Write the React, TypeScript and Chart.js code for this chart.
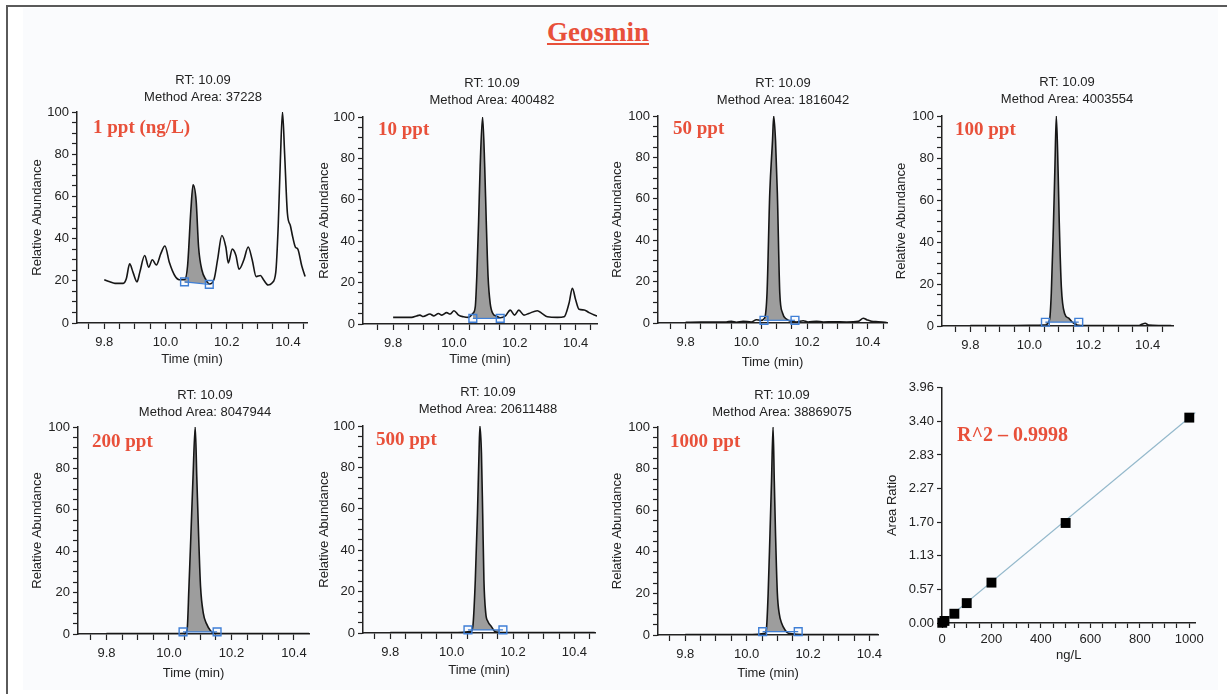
import React, { useEffect, useRef } from 'react';
import { Chart, registerables } from 'chart.js';

Chart.register(...registerables);

const SANS = "'Liberation Sans', Arial, Helvetica, sans-serif";
const SERIF = "'Liberation Serif', 'Times New Roman', serif";
const RED = '#e8503a';
const INK = '#222222';

// ---------- axis ticks ----------
const TIME_TICKS = [9.75, 9.8, 9.85, 9.9, 9.95, 10.0, 10.05, 10.1, 10.15, 10.2, 10.25, 10.3, 10.35, 10.4, 10.45];
const TIME_LABELS = [9.8, 10.0, 10.2, 10.4];
const ABUND_TICKS = [0, 5, 10, 15, 20, 25, 30, 35, 40, 45, 50, 55, 60, 65, 70, 75, 80, 85, 90, 95, 100];
const ABUND_LABELS = [0, 20, 40, 60, 80, 100];
const CAL_X_TICKS = [0, 50, 100, 150, 200, 250, 300, 350, 400, 450, 500, 550, 600, 650, 700, 750, 800, 850, 900, 950, 1000];
const CAL_X_LABELS = [0, 200, 400, 600, 800, 1000];
const CAL_Y_TICKS = [0, 0.566, 1.131, 1.697, 2.263, 2.829, 3.394, 3.96];
const CAL_Y_LABELS = ['0.00', '0.57', '1.13', '1.70', '2.27', '2.83', '3.40', '3.96'];

// ---------- chromatograms (time in min, relative abundance %) ----------
const T1 = [9.800, 9.818, 9.835, 9.862, 9.872, 9.883, 9.894, 9.907, 9.916, 9.932, 9.945, 9.957, 9.970, 9.985, 9.998, 10.013, 10.030, 10.045, 10.062, 10.072, 10.083, 10.090, 10.100, 10.108, 10.119, 10.132, 10.143, 10.159, 10.170, 10.184, 10.197, 10.205, 10.218, 10.230, 10.240, 10.256, 10.270, 10.283, 10.296, 10.310, 10.320, 10.335, 10.348, 10.360, 10.368, 10.375, 10.382, 10.389, 10.398, 10.408, 10.415, 10.424, 10.432, 10.445, 10.456];
const A1 = [20.5, 19.5, 18.8, 18.8, 21, 28, 24, 19.5, 24, 32, 26.5, 30, 27.5, 33, 36.5, 28.5, 22.5, 20.5, 20.5, 27, 54, 65.5, 58, 36, 25, 20.5, 18.5, 21, 30, 41.5, 36, 28.5, 35, 32, 25.5, 30, 36, 30, 22, 22.5, 20.5, 18, 19, 24, 46, 77, 100, 80, 52, 46, 41, 36, 35, 27, 22];

const T2 = [9.800, 9.861, 9.877, 9.888, 9.899, 9.921, 9.934, 9.949, 9.960, 9.976, 9.987, 10.000, 10.015, 10.031, 10.048, 10.062, 10.070, 10.075, 10.081, 10.086, 10.094, 10.101, 10.106, 10.112, 10.119, 10.128, 10.140, 10.152, 10.169, 10.185, 10.199, 10.213, 10.230, 10.246, 10.274, 10.290, 10.307, 10.340, 10.362, 10.378, 10.389, 10.400, 10.411, 10.428, 10.444, 10.461, 10.470];
const A2 = [3.2, 3.2, 3.9, 4.3, 3.6, 4.8, 3.9, 5.1, 4.3, 5.5, 4.8, 6.4, 4.3, 3.5, 3.2, 5.1, 8.4, 23, 50, 76, 100, 76, 50, 23, 10, 5, 3.8, 3.0, 3.9, 6.7, 4.3, 6.7, 4.3, 5.1, 6.4, 5.0, 3.5, 3.2, 3.5, 10, 17.2, 11.6, 7.1, 6.8, 5.5, 4.3, 3.9];

const T3 = [9.800, 9.850, 9.900, 9.934, 9.951, 9.967, 9.989, 10.016, 10.033, 10.046, 10.060, 10.068, 10.077, 10.086, 10.090, 10.096, 10.102, 10.110, 10.119, 10.132, 10.148, 10.165, 10.187, 10.203, 10.231, 10.253, 10.286, 10.330, 10.368, 10.385, 10.396, 10.412, 10.434, 10.456, 10.463];
const A3 = [0.3, 0.4, 0.4, 0.5, 0.8, 0.3, 0.8, 0.5, 1.6, 1.2, 2.4, 14.5, 62.7, 88, 100, 88, 62.7, 14.5, 4.8, 1.9, 0.8, 0.5, 1.1, 0.5, 0.8, 0.5, 0.6, 0.5, 0.8, 2.3, 1.6, 0.8, 0.6, 0.3, 0.1];

const T4 = [9.800, 9.900, 10.000, 10.054, 10.068, 10.074, 10.081, 10.086, 10.091, 10.097, 10.101, 10.108, 10.119, 10.133, 10.144, 10.161, 10.189, 10.279, 10.369, 10.380, 10.392, 10.403, 10.437, 10.480];
const A4 = [0.2, 0.2, 0.3, 0.5, 2.9, 15.6, 47, 74, 100, 74, 49, 18.7, 6, 3.7, 2, 0.5, 0.2, 0.2, 0.2, 0.8, 1.3, 0.4, 0.2, 0.2];

const T5 = [9.800, 9.900, 10.000, 10.051, 10.058, 10.064, 10.070, 10.077, 10.084, 10.089, 10.095, 10.101, 10.110, 10.120, 10.133, 10.147, 10.200, 10.300, 10.400, 10.448];
const A5 = [0.2, 0.2, 0.2, 0.3, 1.9, 23, 47, 76, 100, 76, 47, 23, 10, 5, 1.6, 0.3, 0.2, 0.2, 0.2, 0.2];

const T6 = [9.800, 9.900, 10.000, 10.064, 10.070, 10.077, 10.084, 10.089, 10.092, 10.097, 10.101, 10.105, 10.111, 10.118, 10.129, 10.140, 10.157, 10.250, 10.350, 10.466];
const A6 = [0.2, 0.2, 0.2, 0.8, 4.8, 25.7, 57.8, 86.7, 100, 86.7, 57.8, 25.7, 9.6, 5.6, 3.2, 0.8, 0.2, 0.2, 0.2, 0.2];

const T7 = [9.800, 9.900, 10.000, 10.060, 10.065, 10.070, 10.076, 10.081, 10.086, 10.090, 10.094, 10.100, 10.106, 10.114, 10.125, 10.136, 10.200, 10.300, 10.428];
const A7 = [0.2, 0.2, 0.2, 0.8, 4, 20, 48.8, 74, 100, 74, 48.8, 20, 10.4, 5.6, 2.4, 0.8, 0.2, 0.2, 0.2];

// integration windows [start, end] and baseline levels at the window ends
const WIN = [[10.062, 10.143], [10.062, 10.152], [10.058, 10.160], [10.054, 10.167], [10.045, 10.154], [10.053, 10.167], [10.052, 10.168]];
const BASE = [[19.5, 18.3], [2.7, 2.7], [1.3, 1.3], [1.8, 1.8], [1.0, 1.0], [1.5, 1.5], [1.6, 1.6]];
const AREAS = ['37228', '400482', '1816042', '4003554', '8047944', '20611488', '38869075'];
const LEVELS = ['1 ppt (ng/L)', '10 ppt', '50 ppt', '100 ppt', '200 ppt', '500 ppt', '1000 ppt'];
const RT = '10.09';
const X_MIN = [9.711, 9.701, 9.709, 9.704, 9.709, 9.711, 9.711];
const X_MAX = [10.462, 10.470, 10.463, 10.486, 10.448, 10.467, 10.428];

// ---------- calibration ----------
const CONC = [1, 10, 50, 100, 200, 500, 1000];
const RATIO = [0.004, 0.035, 0.156, 0.335, 0.68, 1.684, 3.458];
const FIT_X = [0, 1025];
const FIT_Y = [0, 3.545];
const R2_TEXT = 'R^2 \u2013 0.9998';

// ---------- layout (pixels) ----------
const LAYOUT = [
  { caL: 77, caT: 112, caR: 307, caB: 323, rtY: 80, tc: 203, wy: 47, hx: 44, dx: 16, dy: 21, xTitle: true },
  { caL: 363, caT: 117, caR: 597, caB: 324, rtY: 83, tc: 492, wy: 46, hx: 43, dx: 15, dy: 18, xTitle: true },
  { caL: 658, caT: 116, caR: 887, caB: 323, rtY: 83, tc: 783, wy: 48, hx: 47, dx: 15, dy: 18, xTitle: true },
  { caL: 942, caT: 116, caR: 1173, caB: 326, rtY: 82, tc: 1067, wy: 48, hx: 30, dx: 13, dy: 19, xTitle: false },
  { caL: 78, caT: 427, caR: 309, caB: 634, rtY: 395, tc: 205, wy: 48, hx: 47, dx: 14, dy: 20, xTitle: true },
  { caL: 363, caT: 426, caR: 595, caB: 633, rtY: 392, tc: 488, wy: 46, hx: 45, dx: 13, dy: 19, xTitle: true },
  { caL: 658, caT: 427, caR: 878, caB: 635, rtY: 395, tc: 782, wy: 48, hx: 46, dx: 12, dy: 20, xTitle: true },
];

const annotate = {
  id: 'annotate',
  afterDatasetsDraw(chart: any, _args: any, opts: any) {
    if (!opts || !opts.text) return;
    const { ctx, chartArea } = chart;
    ctx.save();
    ctx.font = `bold ${opts.size}px ${SERIF}`;
    ctx.fillStyle = RED;
    ctx.textAlign = 'left';
    ctx.textBaseline = 'alphabetic';
    ctx.fillText(opts.text, chartArea.left + opts.dx, chartArea.top + opts.dy);
    ctx.restore();
  },
};

const axisBorder = { display: true, color: INK, width: 1.5 };
const tickGrid = (len: number) => ({ display: true, drawOnChartArea: false, drawTicks: true, tickLength: len, tickColor: INK, tickWidth: 1.2 });
const tickFont = { size: 13, family: SANS };

function near(list: number[], v: number) {
  return list.find((l) => Math.abs(l - v) < 1e-6);
}

function padAxis(width: number) {
  return {
    type: 'linear', axis: 'y', position: 'right', display: true,
    grid: { display: false, drawTicks: false }, ticks: { display: false }, border: { display: false },
    afterFit: (s: any) => { s.width = width; },
  };
}

function chromConfig(i: number) {
  const g = LAYOUT[i];
  const time = [T1, T2, T3, T4, T5, T6, T7][i];
  const abund = [A1, A2, A3, A4, A5, A6, A7][i];
  const win = WIN[i];
  const base = BASE[i];
  const top = Math.round(g.rtY - 8.45);
  const left = g.caL - g.wy;
  const R = Math.max(10, 2 * g.tc - left - g.caR);
  const width = g.caR - left + R;
  const height = g.caB - top + g.hx;
  const pb = g.caT - top - 33.8;

  const pts = time.map((t, k) => ({ x: t, y: abund[k] }));
  const peak = pts.filter((p) => p.x >= win[0] - 1e-9 && p.x <= win[1] + 1e-9);
  const baseLine = [{ x: win[0], y: base[0] }, { x: win[1], y: base[1] }];

  const config: any = {
    type: 'line',
    data: {
      datasets: [
        { data: baseLine, xAxisID: 'x', yAxisID: 'y', borderColor: '#3f7fd6', borderWidth: 1.2, pointStyle: 'rect', pointRadius: 5.5, pointBorderWidth: 1.4, pointBorderColor: '#3f7fd6', pointBackgroundColor: 'rgba(0,0,0,0)', order: 0, clip: false },
        { data: pts, xAxisID: 'x', yAxisID: 'y', borderColor: '#161616', borderWidth: 1.6, pointRadius: 0, cubicInterpolationMode: 'monotone', order: 1 },
        { data: peak, xAxisID: 'x', yAxisID: 'y', borderWidth: 0, borderColor: 'rgba(0,0,0,0)', pointRadius: 0, cubicInterpolationMode: 'monotone', fill: { value: (base[0] + base[1]) / 2 }, backgroundColor: '#9d9d9d', order: 2 },
      ],
    },
    options: {
      animation: false, responsive: false, events: [],
      layout: { padding: 0 },
      plugins: {
        legend: { display: false },
        tooltip: { enabled: false },
        title: {
          display: true, text: ['RT: ' + RT, 'Method Area: ' + AREAS[i]],
          font: { size: 13, lineHeight: 1.3, weight: 'normal', family: SANS }, color: INK,
          padding: { top: 0, bottom: pb },
        },
        annotate: { text: LEVELS[i], dx: g.dx, dy: g.dy, size: 19 },
      },
      scales: {
        x: {
          type: 'linear', position: 'bottom', min: X_MIN[i], max: X_MAX[i],
          afterBuildTicks: (s: any) => { s.ticks = TIME_TICKS.filter((t) => t >= s.min - 1e-9 && t <= s.max + 1e-9).map((value) => ({ value })); },
          afterFit: (s: any) => { s.height = g.hx; },
          border: axisBorder, grid: tickGrid(6),
          ticks: {
            autoSkip: false, maxRotation: 0, padding: 6, color: INK, font: tickFont,
            callback: (v: number) => { const l = near(TIME_LABELS, v); return l === undefined ? '' : l.toFixed(1); },
          },
          title: { display: g.xTitle, text: 'Time (min)', color: INK, font: { size: 13, family: SANS }, padding: 0 },
        },
        y: {
          type: 'linear', position: 'left', min: 0, max: 100,
          afterBuildTicks: (s: any) => { s.ticks = ABUND_TICKS.map((value) => ({ value })); },
          afterFit: (s: any) => { s.width = g.wy; },
          border: axisBorder, grid: tickGrid(5),
          ticks: {
            autoSkip: false, padding: 3, color: INK, font: tickFont,
            callback: (v: number) => (near(ABUND_LABELS, v) === undefined ? '' : String(v)),
          },
          title: { display: true, text: 'Relative Abundance', color: INK, font: { size: 13, family: SANS }, padding: 0 },
        },
        yPad: padAxis(R),
      },
    },
    plugins: [annotate],
  };
  return { config, box: { left, top, width, height } };
}

function calConfig() {
  const caL = 942, caT = 387, caR = 1198, caB = 623, wy = 57, hx = 40;
  const top = caT - 10;
  const left = caL - wy;
  const R = 10;
  const width = caR - left + R;
  const height = caB - top + hx;
  const config: any = {
    type: 'line',
    data: {
      datasets: [
        { data: CONC.map((c, k) => ({ x: c, y: RATIO[k] })), xAxisID: 'x', yAxisID: 'y', showLine: false, pointStyle: 'rect', pointRadius: 7, pointBackgroundColor: '#000', pointBorderColor: '#000', pointBorderWidth: 0, order: 0, clip: false },
        { data: FIT_X.map((x, k) => ({ x, y: FIT_Y[k] })), xAxisID: 'x', yAxisID: 'y', borderColor: '#93b8cb', borderWidth: 1.2, pointRadius: 0, order: 1 },
      ],
    },
    options: {
      animation: false, responsive: false, events: [],
      layout: { padding: { top: 10 } },
      plugins: {
        legend: { display: false },
        tooltip: { enabled: false },
        annotate: { text: R2_TEXT, dx: 15, dy: 53, size: 20 },
      },
      scales: {
        x: {
          type: 'linear', position: 'bottom', min: 0, max: 1025,
          afterBuildTicks: (s: any) => { s.ticks = CAL_X_TICKS.map((value) => ({ value })); },
          afterFit: (s: any) => { s.height = hx; },
          border: axisBorder, grid: tickGrid(5),
          ticks: {
            autoSkip: false, maxRotation: 0, padding: 4, color: INK, font: tickFont,
            callback: (v: number) => (near(CAL_X_LABELS, v) === undefined ? '' : String(v)),
          },
          title: { display: true, text: 'ng/L', color: INK, font: { size: 13, family: SANS }, padding: 0 },
        },
        y: {
          type: 'linear', position: 'left', min: 0, max: 3.96,
          afterBuildTicks: (s: any) => { s.ticks = CAL_Y_TICKS.map((value) => ({ value })); },
          afterFit: (s: any) => { s.width = wy; },
          border: axisBorder, grid: tickGrid(5),
          ticks: {
            autoSkip: false, padding: 3, color: INK, font: tickFont,
            callback: (_v: number, idx: number) => CAL_Y_LABELS[idx] ?? '',
          },
          title: { display: true, text: 'Area Ratio', color: INK, font: { size: 13, family: SANS }, padding: 0 },
        },
        yPad: padAxis(R),
      },
    },
    plugins: [annotate],
  };
  return { config, box: { left, top, width, height } };
}

function ChartBox({ make }: { make: () => { config: any; box: any } }) {
  const ref = useRef<HTMLCanvasElement>(null);
  const { box } = make();
  useEffect(() => {
    const { config } = make();
    const chart = new Chart(ref.current as HTMLCanvasElement, config);
    return () => chart.destroy();
  }, []);
  return (
    <canvas
      ref={ref}
      width={box.width}
      height={box.height}
      style={{ position: 'absolute', left: box.left, top: box.top, width: box.width, height: box.height }}
    />
  );
}

export default function App() {
  Chart.defaults.font.family = SANS;
  Chart.defaults.color = INK;
  return (
    <div style={{ position: 'fixed', left: 0, top: 0, width: 1227, height: 694, background: '#ffffff', overflow: 'hidden' }}>
      <div style={{ position: 'absolute', left: 23, top: 8, width: 1195, height: 682, background: '#fafbfd' }} />
      <div style={{ position: 'absolute', left: 6, top: 5, width: 1221, height: 2, background: '#5a5a5a' }} />
      <div style={{ position: 'absolute', left: 6, top: 5, width: 2, height: 689, background: '#5a5a5a' }} />
      <div
        style={{
          position: 'absolute', left: 498, top: 19, width: 200, textAlign: 'center',
          fontFamily: SERIF, fontWeight: 'bold', fontSize: 27, lineHeight: '27px',
          color: RED, textDecoration: 'underline',
        }}
      >
        Geosmin
      </div>
      {LAYOUT.map((_, i) => (
        <ChartBox key={i} make={() => chromConfig(i)} />
      ))}
      <ChartBox make={calConfig} />
    </div>
  );
}
